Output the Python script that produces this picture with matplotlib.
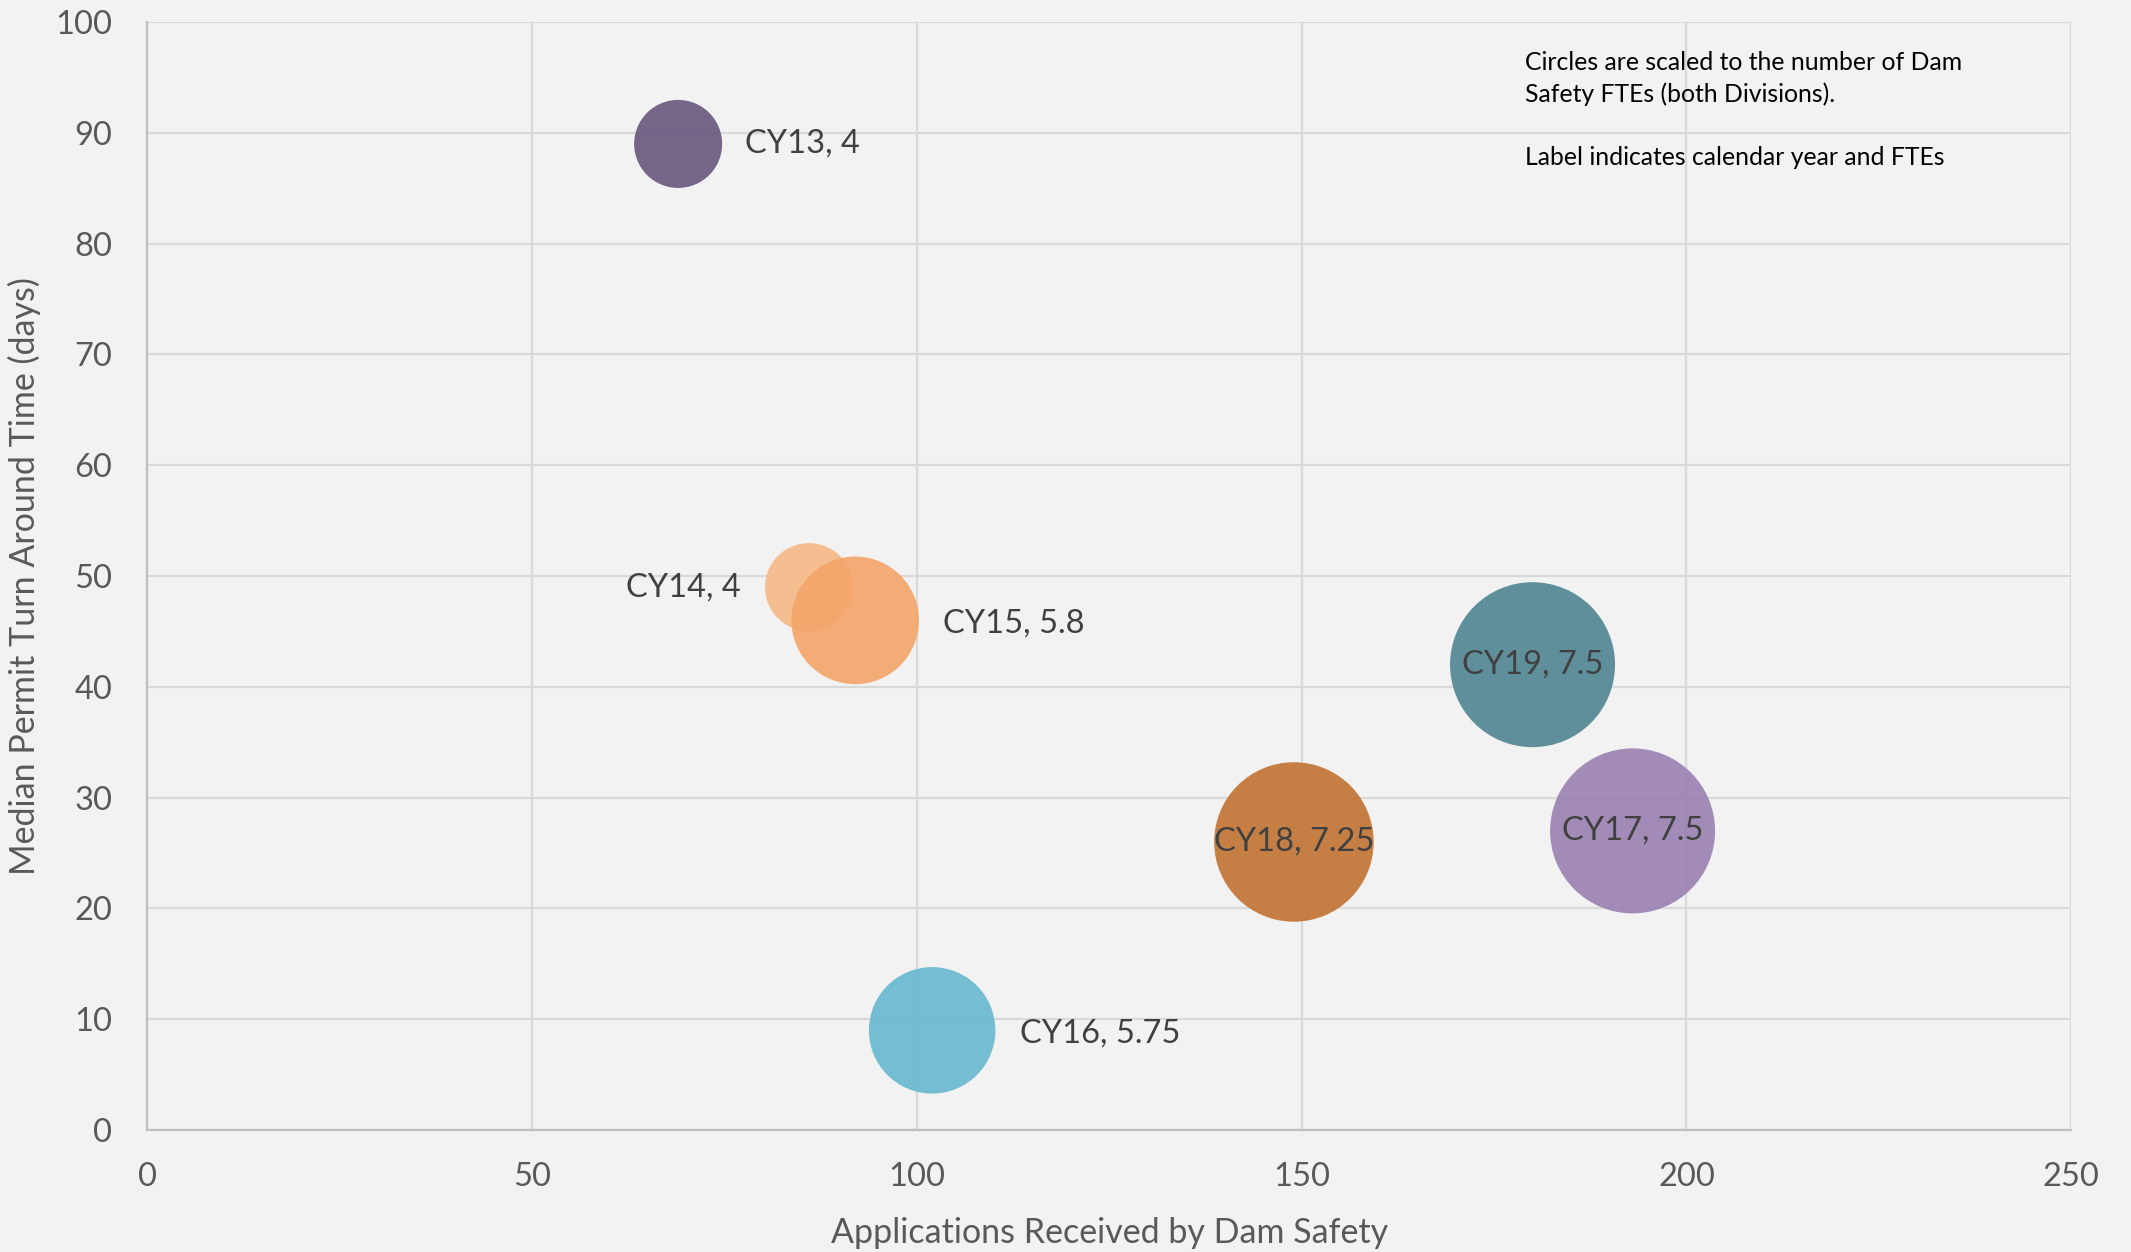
import numpy as np
import matplotlib.pyplot as plt

plt.rcParams['font.family'] = ['Lato', 'DejaVu Sans']

# data
labels = ["CY13", "CY14", "CY15", "CY16", "CY17", "CY18", "CY19"]
applications = [69, 86, 92, 102, 193, 149, 180]
turnaround = [89, 49, 46, 9, 27, 26, 42]
ftes = [4, 4, 5.8, 5.75, 7.5, 7.25, 7.5]
fte_text = ["4", "4", "5.8", "5.75", "7.5", "7.25", "7.5"]

colors = ["#6a5a7f", "#f5ba88", "#f4a66a", "#6ab9d0", "#9b83b2", "#c27536", "#528793"]
# label placement: offset in points, alignment
label_pos = [(48, 0, "left"), (-49, 0, "right"), (63, -2, "left"), (63, -2, "left"),
             (0, 0, "center"), (0, 0, "center"), (0, 0, "center")]

bg = "#f2f2f2"
fig = plt.figure(figsize=(21.31, 12.52), dpi=100, facecolor=bg)
ax = fig.add_axes([0.069, 0.0974, 0.903, 0.885], facecolor=bg)

# bubble diameter proportional to FTEs (22 px per FTE)
diam_pt = np.array(ftes) * 22 * 72 / 100
for i in range(len(labels)):
    ax.scatter(applications[i], turnaround[i], s=diam_pt[i] ** 2, color=colors[i],
               alpha=0.92, edgecolors="none", zorder=3 + i)
    dx, dy, ha = label_pos[i]
    ax.annotate(f"{labels[i]}, {fte_text[i]}", (applications[i], turnaround[i]),
                xytext=(dx, dy), textcoords="offset points", ha=ha, va="center",
                fontsize=23.5, color="#404040", zorder=20)

ax.set_xlim(0, 250)
ax.set_ylim(0, 100)
ax.set_xticks(np.arange(0, 251, 50))
ax.set_yticks(np.arange(0, 101, 10))
ax.grid(True, color="#d9d9d9", linewidth=1.6, zorder=0)
ax.set_axisbelow(True)
for s in ["top", "right"]:
    ax.spines[s].set_visible(False)
for s in ["left", "bottom"]:
    ax.spines[s].set_color("#bfbfbf")
    ax.spines[s].set_linewidth(1.6)
ax.tick_params(length=0, labelsize=23.5, labelcolor="#595959")
ax.tick_params(axis="y", pad=25)
ax.tick_params(axis="x", pad=23)

ax.set_xlabel("Applications Received by Dam Safety", fontsize=24.5, color="#595959", labelpad=18)
ax.set_ylabel("Median Permit Turn Around Time (days)", fontsize=24.5, color="#595959", labelpad=10)

ax.text(179, 97.4, "Circles are scaled to the number of Dam\nSafety FTEs (both Divisions).\n\nLabel indicates calendar year and FTEs",
        fontsize=17.8, color="black", va="top", ha="left", linespacing=1.45)

fig.savefig("out.png", dpi=100, facecolor=bg)
